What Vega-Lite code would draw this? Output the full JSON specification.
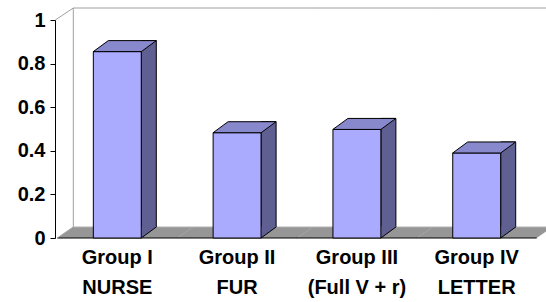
{
  "$schema": "https://vega.github.io/schema/vega-lite/v6.json",
  "width": 484,
  "height": 218,
  "autosize": "none",
  "padding": {"left": 55, "top": 20, "right": 7, "bottom": 64},
  "background": "white",
  "config": {"view": {"stroke": null}},
  "data": {"values": [
    {"group": "Group I\nNURSE", "value": 0.855},
    {"group": "Group II\nFUR", "value": 0.483},
    {"group": "Group III\n(Full V + r)", "value": 0.498},
    {"group": "Group IV\nLETTER", "value": 0.39}
  ]},
  "encoding": {
    "x": {"field": "group", "type": "nominal", "sort": null, "title": null,
      "scale": {"paddingInner": 0.6, "paddingOuter": 0.32},
      "axis": {"domain": false, "ticks": false, "labelAngle": 0, "labelFont": "Liberation Sans", "labelFontWeight": "bold", "labelFontSize": 20, "labelColor": "black", "labelPadding": 9, "labelLineHeight": 30, "labelExpr": "split(datum.label, '\\n')"}},
    "y": {"field": "value", "type": "quantitative", "title": null,
      "scale": {"domain": [0, 1], "nice": false},
      "axis": {"values": [0, 0.2, 0.4, 0.6, 0.8, 1], "format": "~g", "grid": false, "domainColor": "black", "tickColor": "black", "tickSize": 5, "labelFont": "Liberation Sans", "labelFontWeight": "bold", "labelFontSize": 20, "labelColor": "black", "labelPadding": 5, "zindex": 1}}
  },
  "layer": [
    {"mark": {"type": "point", "shape": "M-60,0 L60,0 L76,-11 L-44,-11 Z", "size": 4, "filled": true, "fill": "#969696", "stroke": null, "opacity": 1},
     "encoding": {"y": {"datum": 0}}},
    {"mark": {"type": "point", "shape": "M-44,-11 L76,-11", "size": 4, "filled": false, "stroke": "#b0b0b0", "strokeWidth": 1, "opacity": 1},
     "encoding": {"y": {"datum": 0}}},
    {"mark": {"type": "point", "shape": "M-60,0 L60,0", "size": 4, "filled": false, "stroke": "black", "strokeWidth": 1, "opacity": 1},
     "encoding": {"y": {"datum": 0}}},
    {"mark": {"type": "point", "shape": "M-44,-12 L76,-12", "size": 4, "filled": false, "stroke": "#a0a0a0", "strokeWidth": 1, "opacity": 1},
     "encoding": {"y": {"datum": 1}}},
    {"transform": [{"filter": "datum.group == 'Group I\\nNURSE'"}],
     "mark": {"type": "point", "shape": "M-62,0 L-44,-12", "size": 4, "filled": false, "stroke": "#a0a0a0", "strokeWidth": 1, "opacity": 1},
     "encoding": {"y": {"datum": 1}}},
    {"transform": [{"filter": "datum.group == 'Group I\\nNURSE'"}],
     "mark": {"type": "point", "shape": "M-60,0 L-44,-11", "size": 4, "filled": false, "stroke": "#a0a0a0", "strokeWidth": 1, "opacity": 1},
     "encoding": {"y": {"datum": 0}}},
    {"transform": [{"filter": "datum.group == 'Group I\\nNURSE'"}],
     "mark": {"type": "rule", "stroke": "#a0a0a0", "strokeWidth": 1, "xOffset": -44, "yOffset": -12, "y2Offset": -11},
     "encoding": {"y": {"datum": 1}, "y2": {"datum": 0}}},
    {"mark": {"type": "bar", "width": 15, "xOffset": 31.5, "yOffset": -11, "y2Offset": -11, "fill": "#5f5f91", "stroke": "black", "strokeWidth": 1},
     "encoding": {"y2": {"datum": 0}}},
    {"mark": {"type": "point", "shape": "M24,0 L24,-12 L39,-12 L39,-11 Z", "size": 4, "filled": true, "fill": "#5f5f91", "stroke": null, "opacity": 1},
     "encoding": {"y": {"datum": 0}}},
    {"mark": {"type": "point", "shape": "M24,0 L39,-11", "size": 4, "filled": false, "stroke": "black", "strokeWidth": 1, "opacity": 1},
     "encoding": {"y": {"datum": 0}}},
    {"mark": {"type": "bar", "fill": "#aaaaff", "stroke": "black", "strokeWidth": 1},
     "encoding": {"y2": {"datum": 0}}},
    {"mark": {"type": "point", "shape": "M-24,0 L-9,-11 L39,-11 L24,0 Z", "size": 4, "filled": true, "fill": "#8888cc", "stroke": "black", "strokeWidth": 1, "opacity": 1}}
  ]
}
